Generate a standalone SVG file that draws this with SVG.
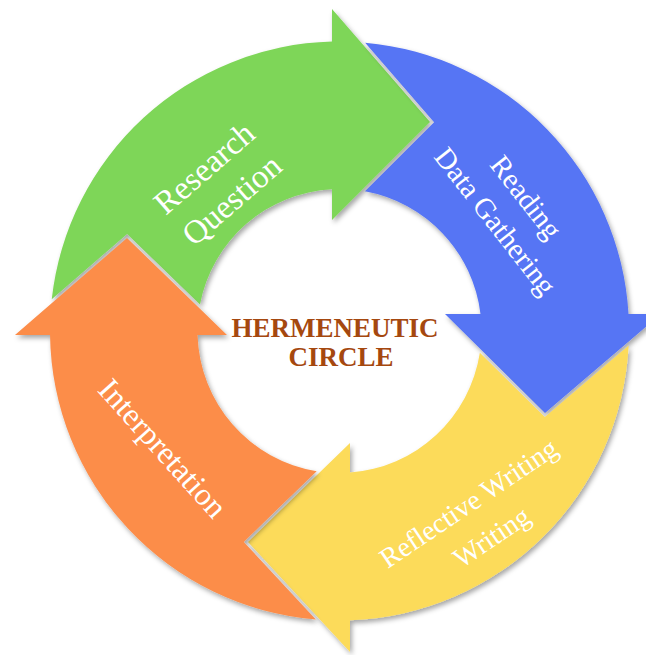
<svg xmlns="http://www.w3.org/2000/svg" width="646" height="655" viewBox="0 0 646 655">
<defs>
<filter id="sh" x="-10%" y="-10%" width="130%" height="130%">
<feDropShadow dx="2" dy="3" stdDeviation="2.5" flood-color="#000" flood-opacity="0.35"/>
</filter>
</defs>
<style>
.arrow{filter:url(#sh)}
.lbl{font-family:"Liberation Serif","Times New Roman",serif;fill:#ffffff;text-anchor:middle}
.ctr{font-family:"Liberation Serif","Times New Roman",serif;font-weight:bold;fill:#A5480F;text-anchor:middle;font-size:27px}
</style>
<rect width="646" height="655" fill="#ffffff"/>
<g id="connectors"></g>
<g id="research-question">
<path class="arrow" fill="#7ED658" d="M 51.74,299.23 A 289.5 289.5 0 0 1 332,41.6 L 332,9 L 430,122 L 332,220 L 332,189.2 A 142 142 0 0 0 199.99,304.58 L 127.11,233.93 Z"/>
<g transform="translate(218,184) rotate(-41)">
<text class="lbl" font-size="33" x="0" y="-10">Research</text>
<text class="lbl" font-size="33" x="0" y="32">Question</text>
</g>
</g>
<g id="reading">
<path class="arrow" fill="#5674F4" d="M 365.13,42.65 A 289.5 289.5 0 0 1 628.5,314 L 661,314 L 545,413 L 445,314 L 480.48,314 A 142 142 0 0 0 364.93,191.31 L 434.10,122.14 Z"/>
<g transform="translate(511,209) rotate(52)">
<text class="lbl" font-size="29" x="0" y="-9.5">Reading</text>
<text class="lbl" font-size="29" x="0" y="29.5">Data Gathering</text>
</g>
</g>
<g id="reflective-writing">
<path class="arrow" fill="#FCDB5A" d="M 628.64,345.62 A 289.5 289.5 0 0 1 350,620.31 L 350,652 L 248,542 L 350,443 L 350,472.61 A 142 142 0 0 0 479.86,352.72 L 544.85,417.07 Z"/>
<g transform="translate(480,520) rotate(-34)">
<text class="lbl" font-size="28" x="0" y="-11">Reflective Writing</text>
<text class="lbl" font-size="28" x="0" y="30">Writing</text>
</g>
</g>
<g id="interpretation">
<path class="arrow" fill="#FC8D4A" d="M 315.83,619.52 A 289.5 289.5 0 0 1 50.03,335 L 15,335 L 127,238 L 227,335 L 197.56,335 A 142 142 0 0 0 316.69,471.15 L 243.81,541.89 Z"/>
<g transform="translate(163,448) rotate(48)">
<text class="lbl" font-size="32" x="0" y="11">Interpretation</text>
</g>
</g>
<g id="center-title">
<text class="ctr" x="335" y="337">HERMENEUTIC</text>
<text class="ctr" x="341" y="366">CIRCLE</text>
</g>
</svg>
